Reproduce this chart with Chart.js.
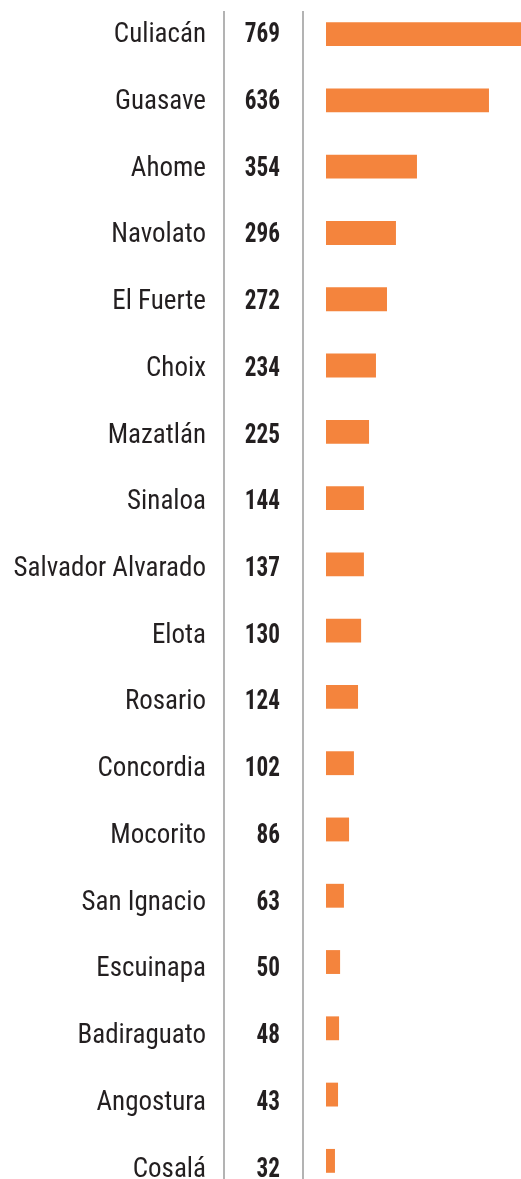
<!DOCTYPE html>
<html>
<head>
<meta charset="utf-8">
<script src="https://cdn.jsdelivr.net/npm/chart.js@4"></script>
<style>
  html, body { margin: 0; padding: 0; background: #fff; overflow: hidden; }
  #wrap { position: relative; width: 521px; height: 1194px; }
</style>
</head>
<body>
<div id="wrap"><canvas id="grafico"></canvas></div>
<script>
// ===== Datos =====
const municipios = ["Culiacán", "Guasave", "Ahome", "Navolato", "El Fuerte", "Choix", "Mazatlán", "Sinaloa",
  "Salvador Alvarado", "Elota", "Rosario", "Concordia", "Mocorito", "San Ignacio", "Escuinapa",
  "Badiraguato", "Angostura", "Cosalá"];
// cifras impresas en la columna central
const casos = [769, 636, 354, 296, 272, 234, 225, 144, 137, 130, 124, 102, 86, 63, 50, 48, 43, 32];
// largo de cada barra tal como se ve en la imagen (no siempre coincide con la cifra)
const barras = [769, 636, 355, 273, 238, 195, 168, 148, 148, 137, 125, 109, 90, 70, 55, 51, 47, 35];

const NARANJA = "#f4843d";
const TEXTO = "#231f20";
const FUENTE = "'Liberation Sans Narrow', 'Roboto Condensed', Roboto, sans-serif";

// etiquetas, valores y líneas verticales (columnas a la izquierda de las barras)
const columnas = {
  id: "columnas",
  afterDraw(chart) {
    const ctx = chart.ctx, y = chart.scales.y;
    ctx.save();
    ctx.strokeStyle = "#9a9a9a";
    ctx.lineWidth = 1.5;
    [224, 303].forEach(x => {
      ctx.beginPath(); ctx.moveTo(x, 11); ctx.lineTo(x, chart.height); ctx.stroke();
    });
    ctx.fillStyle = TEXTO;
    ctx.textAlign = "right";
    ctx.textBaseline = "alphabetic";
    municipios.forEach((m, i) => {
      const py = y.getPixelForValue(i) + 8 + i * 0.45;
      ctx.font = "400 27px " + FUENTE;
      ctx.fillText(m, 206, py);
      // cifras en negrita, algo más angostas
      ctx.save();
      ctx.translate(280, py);
      ctx.scale(0.86, 1);
      ctx.font = "700 27px " + FUENTE;
      ctx.fillText(String(casos[i]), 0, 0);
      ctx.restore();
    });
    ctx.restore();
  }
};

new Chart(document.getElementById("grafico"), {
  type: "bar",
  data: {
    labels: municipios,
    datasets: [{ data: barras, backgroundColor: NARANJA, borderWidth: 0,
      categoryPercentage: 1, barPercentage: 0.36 }]
  },
  options: {
    indexAxis: "y",
    responsive: true,
    maintainAspectRatio: false,
    animation: false,
    layout: { padding: { left: 326, right: 0, top: 1, bottom: 0 } },
    plugins: { legend: { display: false }, tooltip: { enabled: false } },
    scales: {
      x: { display: false, min: 0, max: 761 },
      y: { display: false }
    }
  },
  plugins: [columnas]
});
</script>
</body>
</html>
